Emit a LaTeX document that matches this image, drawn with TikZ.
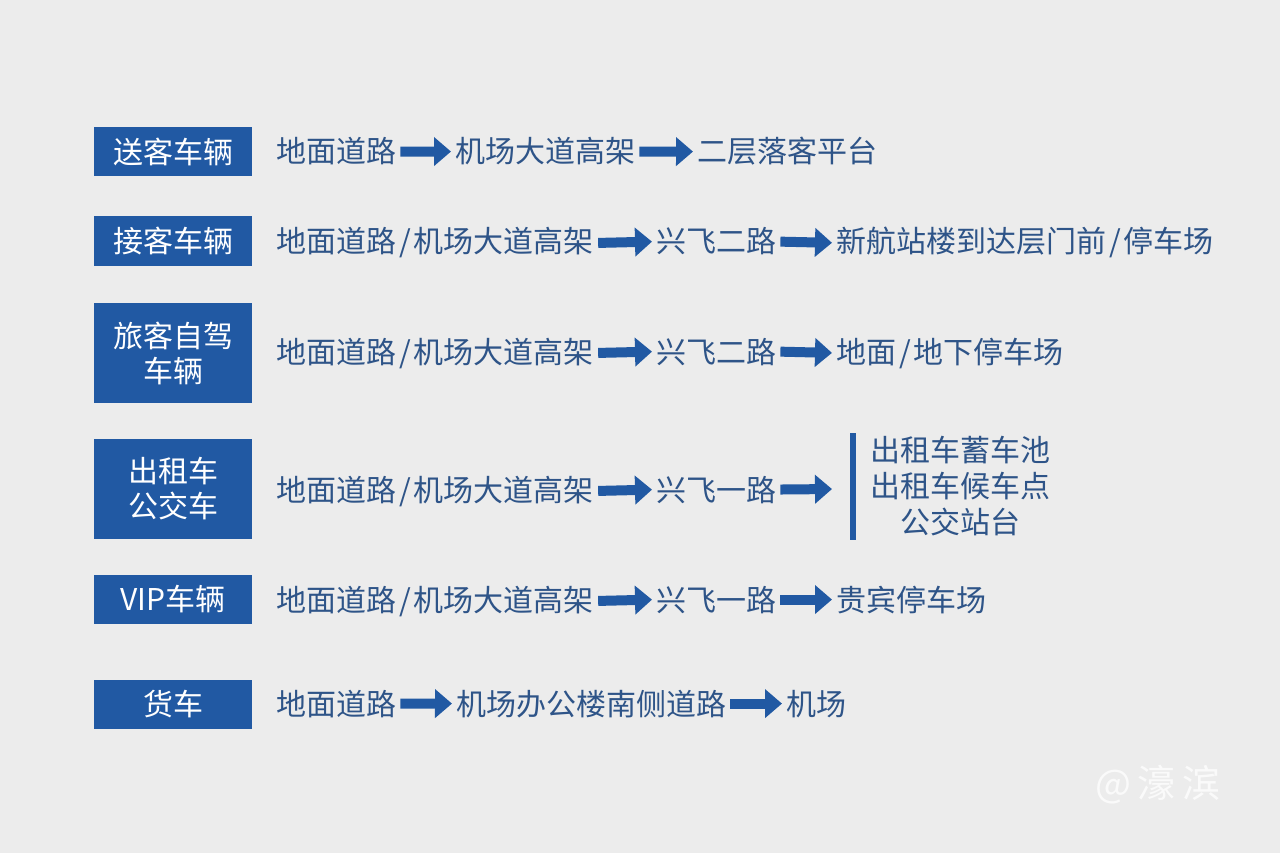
\documentclass[tikz,border=0pt]{standalone}
\usepackage{fontspec}
\setmainfont{Noto Sans CJK SC}
\usetikzlibrary{arrows.meta}
\definecolor{bg}{RGB}{236,236,236}
\definecolor{boxblue}{RGB}{33,89,163}
\definecolor{txtblue}{RGB}{46,84,136}
\begin{document}
\begin{tikzpicture}[x=1pt,y=-1pt,
  catbox/.style={fill=boxblue,text=white,minimum width=158pt,inner sep=0pt,align=center,font=\fontsize{30}{35}\selectfont},
  txt/.style={anchor=base west,inner sep=0pt,text=txtblue,font=\fontsize{30}{35}\selectfont},
  flow/.style={draw=boxblue,line width=10pt,-{Triangle[length=17pt,width=28pt]},shorten <=4pt,shorten >=4pt}]
\fill[bg] (0,0) rectangle (1280,853);
\useasboundingbox (0,0) rectangle (1280,853);
\def\sl{\kern3pt/\kern3pt}
% row 1
\node[catbox,minimum height=49pt] (c1) at (173,152) {送客车辆};
\node[txt] (a1) at (276,163) {地面道路};
\node[txt] (b1) at (455,163) {机场大道高架};
\node[txt] (d1) at (697,163) {二层落客平台};
\draw[flow] (a1.east) -- (b1.west);
\draw[flow] (b1.east) -- (d1.west);
% row 2
\node[catbox,minimum height=50pt] (c2) at (173,241) {接客车辆};
\node[txt] (a2) at (276,253) {地面道路\sl 机场大道高架};
\node[txt] (b2) at (656,253) {兴飞二路};
\node[txt] (d2) at (836,253) {新航站楼到达层门前\sl 停车场};
\draw[flow] (a2.east) -- (b2.west);
\draw[flow] (b2.east) -- (d2.west);
% row 3
\node[catbox,minimum height=100pt] (c3) at (173,353) {旅客自驾\\车辆};
\node[txt] (a3) at (276,363) {地面道路\sl 机场大道高架};
\node[txt] (b3) at (656,363) {兴飞二路};
\node[txt] (d3) at (836,363) {地面\sl 地下停车场};
\draw[flow] (a3.east) -- (b3.west);
\draw[flow] (b3.east) -- (d3.west);
% row 4
\node[catbox,minimum height=100pt] (c4) at (173,489) {出租车\\公交车};
\node[txt] (a4) at (276,501) {地面道路\sl 机场大道高架};
\node[txt] (b4) at (656,501) {兴飞一路};
\node[inner sep=0pt,text=txtblue,align=center,font=\fontsize{30}{36}\selectfont] (d4) at (960,486) {出租车蓄车池\\出租车候车点\\公交站台};
\draw[boxblue,line width=6pt] (853,433) -- (853,540);
\coordinate (t4) at (836,489);
\draw[flow] (a4.east) -- (b4.west);
\draw[flow] (b4.east) -- (t4);
% row 5
\node[catbox,minimum height=49pt] (c5) at (173,599) {VIP车辆};
\node[txt] (a5) at (276,611) {地面道路\sl 机场大道高架};
\node[txt] (b5) at (656,611) {兴飞一路};
\node[txt] (d5) at (836,611) {贵宾停车场};
\draw[flow] (a5.east) -- (b5.west);
\draw[flow] (b5.east) -- (d5.west);
% row 6
\node[catbox,minimum height=49pt] (c6) at (173,704) {货车};
\node[txt] (a6) at (276,715) {地面道路};
\node[txt] (b6) at (456,715) {机场办公楼南侧道路};
\node[txt] (d6) at (786,715) {机场};
\draw[flow] (a6.east) -- (b6.west);
\draw[flow] (b6.east) -- (d6.west);
% watermark
\node[text=white,opacity=0.75,font=\fontsize{38}{40}\selectfont,inner sep=0pt] (wm) at (1158,785) {@\,濠\,滨};
\end{tikzpicture}
\end{document}
